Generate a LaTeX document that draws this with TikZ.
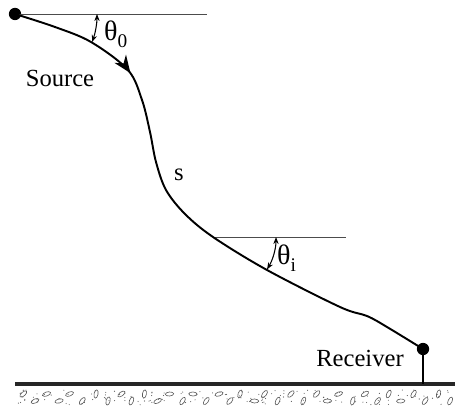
\documentclass[tikz,border=0pt]{standalone}
\usepackage{fontspec}
\setmainfont{Liberation Serif}
\usetikzlibrary{arrows.meta, decorations.markings, positioning}
\tikzset{
    >=Stealth,
    % Lines
    ray/.style={line width=1.1pt, black},
    refline/.style={line width=0.5pt, gray!60!black},
    angarrow/.style={{Stealth[length=4pt,width=3pt]}-{Stealth[length=4pt,width=3pt]}, line width=0.6pt},
    ground/.style={line width=2.6pt, black!85},
    gravel/.style={gray!70!black, line width=0.35pt},
    % Nodes
    station/.style={circle, fill=black, inner sep=0pt, minimum size=7pt},
    lbl/.style={font=\fontsize{14}{16}\selectfont, inner sep=1pt},
    anglbl/.style={font=\fontsize{16}{18}\selectfont, inner sep=1pt}
}
\newcommand{\thsub}[1]{θ\raisebox{-0.55ex}{\fontsize{11}{12}\selectfont #1}}

\begin{document}
\begin{tikzpicture}[x=0.02cm, y=-0.02cm]
\useasboundingbox (0,0) rectangle (455,408);

% ground and gravel
\coordinate (gl) at (15,384);
\coordinate (gr) at (455,384);
\pgfmathsetseed{11}
\foreach \k in {0,...,35} {
    \pgfmathsetmacro\gx{22+\k*12.2+rand*2}
    \pgfmathsetmacro\gy{394+mod(\k,2)*7}
    \pgfmathsetmacro\ga{40+rand*50}
    \draw[gravel, rotate around={\ga:(\gx,\gy)}] (\gx,\gy) ellipse (4.2 and 2);
}
\foreach \k in {0,...,140} {
    \pgfmathsetmacro\dx{18+rnd*434}
    \pgfmathsetmacro\dy{390+rnd*15}
    \fill[gravel] (\dx,\dy) circle (0.55);
}
\draw[ground] (gl) -- (gr);

% source and receiver
\node[station] (src) at (15,14) {};
\node[station] (rcv) at (423,349) {};
\coordinate (rcvfoot) at (423,384);
\draw[line width=1pt] (rcv.center) -- (rcvfoot);

% reference lines
\coordinate (hit) at (213,237);
\draw[refline] (src.center) -- (207,14) coordinate (ref0);
\draw[refline] (hit) -- (346,237) coordinate (refi);

% ray path
\draw[ray, postaction={decorate}, decoration={markings,
      mark=at position 0.235 with {\arrow{Stealth[length=10pt,width=8pt]}}}]
    plot[smooth, tension=0.55] coordinates {
    (15,14) (55,27) (91,42) (128,70) (142,100) (150,132) (156,162)
    (166,190) (185,214) (213,237) (267,270) (340,307) (367,316)
    (387,327) (423,349)};

% angles
\draw[angarrow] (src.center) ++(0:82) arc (0:20:82);
\draw[angarrow] (hit) ++(0:63) arc (0:31:63);

% labels
\node[anglbl, anchor=west] (th0) at (102,34) {\thsub{0}};
\node[anglbl, anchor=west] (thi) at (275,258) {\thsub{i}};
\node[lbl] (srclbl) at (60,78) {Source};
\node[lbl] (slbl) at (179,175) {s};
\node[lbl] (rcvlbl) at (360,358) {Receiver};

\end{tikzpicture}
\end{document}
